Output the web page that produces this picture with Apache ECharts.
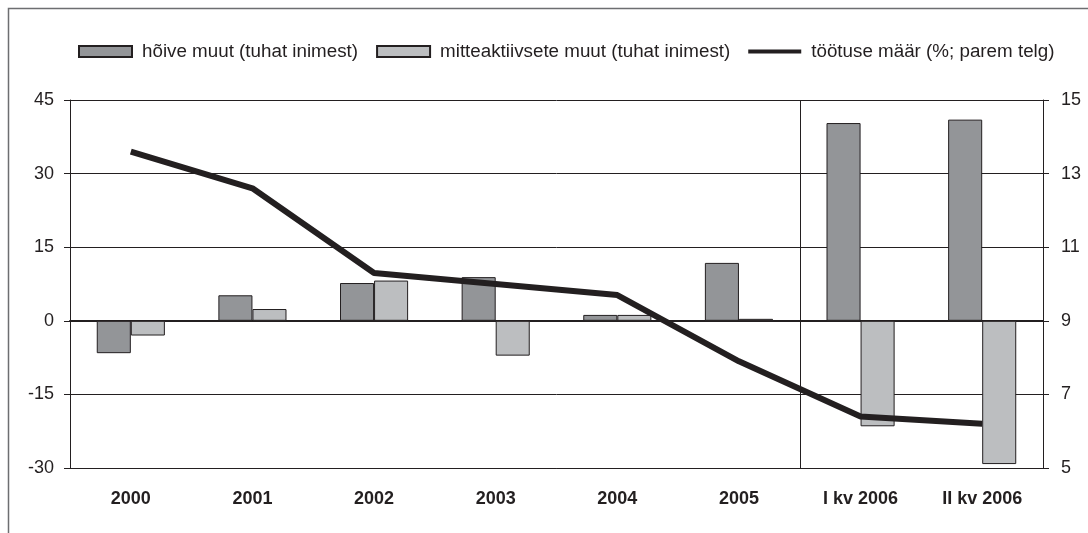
<!DOCTYPE html>
<html>
<head>
<meta charset="utf-8">
<script src="https://cdn.jsdelivr.net/npm/echarts@6/dist/echarts.min.js"></script>
<style>
  html, body { margin: 0; padding: 0; background: #fff; }
  #main { width: 1088px; height: 533px; }
</style>
</head>
<body>
<div id="main"></div>
<script>
  // andmed
  let categories = ['2000', '2001', '2002', '2003', '2004', '2005', 'I kv 2006', 'II kv 2006']
  let hoive = [-6.6, 5.2, 7.7, 8.9, 1.2, 11.8, 40.3, 41.0]
  let mitteaktiivsed = [-3.0, 2.4, 8.2, -7.1, 1.2, 0.4, -21.5, -29.2]
  let tootus = [13.6, 12.6, 10.3, 10.0, 9.7, 7.9, 6.4, 6.2]
  let leftTicks = [-30, 45, 15]
  let rightTicks = [5, 15, 2]
  // kvartaliandmete eraldusjoon (kategooria piir)
  let separator = [0, 8, 6]

  let ink = '#231f20'
  let colors = ['#939598', '#bcbec0', ink]
  let font = 'Liberation Sans, Arial, sans-serif'
  // paks joon legendis
  let lineIcon = 'path://M0,0M53,11M0,3.5L53,3.5L53,7.5L0,7.5Z'

  let chart = echarts.init(document.getElementById('main'))
  chart.setOption({
    animation: false,
    color: colors,
    textStyle: { fontFamily: font, color: ink },
    graphic: [
      {
        type: 'polyline',
        shape: { points: [[8.5, 533], [8.5, 8.5], [1088, 8.5]] },
        style: { stroke: '#6d6e71', lineWidth: 1.5, fill: null }
      }
    ],
    legend: {
      left: 73,
      top: 37,
      itemWidth: 53,
      itemHeight: 11,
      itemGap: 18,
      textStyle: { fontSize: 18.8, color: ink, fontFamily: font, padding: [0, 0, 0, 5] },
      data: [
        { name: 'hõive muut (tuhat inimest)', icon: 'rect' },
        { name: 'mitteaktiivsete muut (tuhat inimest)', icon: 'rect' },
        { name: 'töötuse määr (%; parem telg)', icon: lineIcon, itemStyle: { color: ink, borderWidth: 0 } }
      ]
    },
    grid: { left: 70, right: 45, top: 100, bottom: 65 },
    xAxis: [
      {
        type: 'category',
        data: categories,
        axisLine: { onZero: false, lineStyle: { color: ink, width: 1 } },
        axisTick: { show: false },
        axisLabel: { fontSize: 18, fontWeight: 'bold', color: ink, margin: 22 }
      },
      {
        type: 'category',
        position: 'top',
        data: categories,
        axisLine: { lineStyle: { color: ink, width: 2 } },
        axisTick: { show: false },
        axisLabel: { show: false }
      },
      {
        type: 'value',
        position: 'bottom',
        min: separator[0],
        max: separator[1],
        interval: separator[2],
        axisLine: { show: false },
        axisTick: { show: false },
        axisLabel: { show: false },
        splitLine: { show: true, lineStyle: { color: ink, width: 1 } }
      }
    ],
    yAxis: [
      {
        type: 'value',
        min: leftTicks[0],
        max: leftTicks[1],
        interval: leftTicks[2],
        axisLine: { show: true, lineStyle: { color: ink } },
        axisTick: { show: true, length: 6, lineStyle: { color: ink } },
        axisLabel: { fontSize: 18, color: ink, margin: 16 },
        splitLine: { lineStyle: { color: ink, width: 1 } }
      },
      {
        type: 'value',
        min: rightTicks[0],
        max: rightTicks[1],
        interval: rightTicks[2],
        axisLine: { show: true, lineStyle: { color: ink } },
        axisTick: { show: true, length: 6, lineStyle: { color: ink } },
        axisLabel: { fontSize: 18, color: ink, margin: 18 },
        splitLine: { show: false }
      }
    ],
    series: [
      {
        name: 'hõive muut (tuhat inimest)',
        type: 'bar',
        data: hoive,
        barGap: '0%',
        barCategoryGap: '44%',
        itemStyle: { color: colors[0], borderColor: ink, borderWidth: 1 }
      },
      {
        name: 'mitteaktiivsete muut (tuhat inimest)',
        type: 'bar',
        data: mitteaktiivsed,
        itemStyle: { color: colors[1], borderColor: ink, borderWidth: 1 }
      },
      {
        name: 'töötuse määr (%; parem telg)',
        type: 'line',
        yAxisIndex: 1,
        data: tootus,
        symbol: 'none',
        lineStyle: { color: ink, width: 6 },
        itemStyle: { color: ink },
        z: 5
      }
    ]
  })
</script>
</body>
</html>
